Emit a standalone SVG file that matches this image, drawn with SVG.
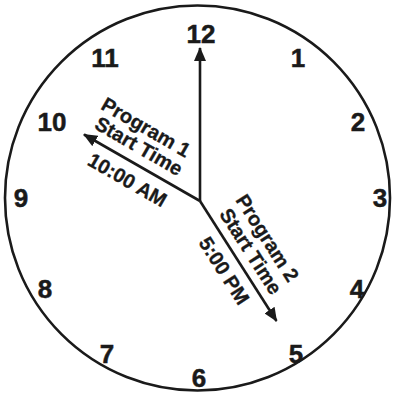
<svg xmlns="http://www.w3.org/2000/svg" width="394" height="394" viewBox="0 0 394 394">
<style>
.num{font-family:"Liberation Sans",Arial,sans-serif;font-weight:bold;font-size:26px;fill:#1a1a1a;stroke:#1a1a1a;stroke-width:0.5;text-anchor:middle}
.lbl{font-family:"Liberation Sans",Arial,sans-serif;font-weight:bold;font-size:20px;fill:#1a1a1a;stroke:#1a1a1a;stroke-width:0.3}
.hand{stroke:#1a1a1a;stroke-width:2.6;fill:none}
</style>
<defs>
<marker id="ah" viewBox="0 0 14 12" refX="13" refY="6" markerWidth="14" markerHeight="12" markerUnits="userSpaceOnUse" orient="auto">
<path d="M0,0 L14,6 L0,12 Z" fill="#1a1a1a"/>
</marker>
</defs>
<rect width="394" height="394" fill="#fff"/>
<g id="face"><circle cx="197.5" cy="198" r="192.5" fill="none" stroke="#1a1a1a" stroke-width="2.6"/></g>
<g id="numbers">
<text class="num" x="201" y="43">12</text>
<text class="num" x="298" y="67">1</text>
<text class="num" x="358" y="131">2</text>
<text class="num" x="380" y="207">3</text>
<text class="num" x="357" y="298">4</text>
<text class="num" x="296" y="363">5</text>
<text class="num" x="199" y="387">6</text>
<text class="num" x="107" y="363">7</text>
<text class="num" x="45" y="298">8</text>
<text class="num" x="21" y="207">9</text>
<text class="num" x="52" y="131">10</text>
<text class="num" x="105" y="67">11</text>
</g>
<g id="connectors">
<line class="hand" x1="200" y1="201" x2="200" y2="48" marker-end="url(#ah)"/>
<line class="hand" x1="200" y1="201" x2="84" y2="134.5" marker-end="url(#ah)"/>
<line class="hand" x1="200" y1="201" x2="276.5" y2="321" marker-end="url(#ah)"/>
</g>
<g id="label1" transform="translate(200,201) rotate(30)">
<text class="lbl" x="-133" y="-30">Program 1</text>
<text class="lbl" x="-129" y="-10">Start Time</text>
<text class="lbl" x="-117" y="25">10:00 AM</text>
</g>
<g id="label2" transform="translate(200,201) rotate(57.5)">
<text class="lbl" x="18" y="-30">Program 2</text>
<text class="lbl" x="21" y="-9">Start Time</text>
<text class="lbl" x="34" y="24">5:00 PM</text>
</g>
</svg>
